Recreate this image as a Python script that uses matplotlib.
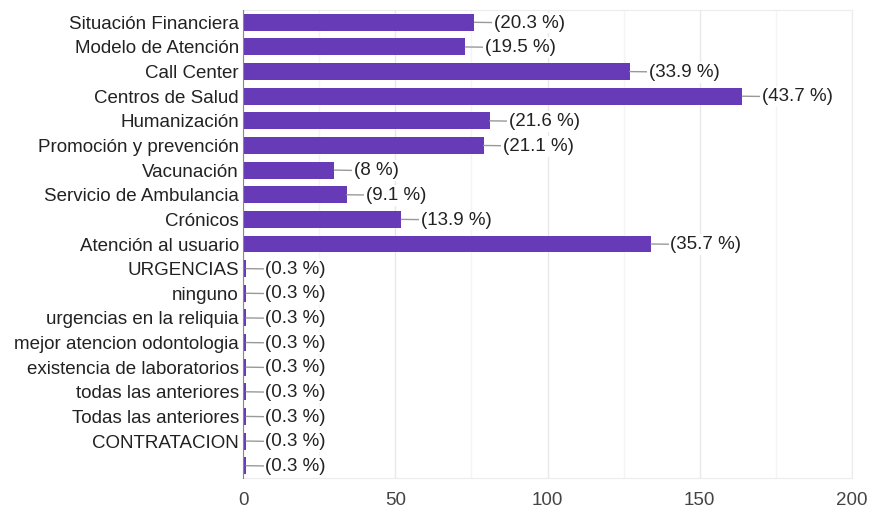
import matplotlib
matplotlib.use('Agg')
import matplotlib.pyplot as plt
from matplotlib.ticker import MultipleLocator

plt.rcParams['font.family'] = ['Liberation Sans', 'DejaVu Sans']

categories = ['Situación Financiera', 'Modelo de Atención', 'Call Center', 'Centros de Salud',
              'Humanización', 'Promoción y prevención', 'Vacunación', 'Servicio de Ambulancia',
              'Crónicos', 'Atención al usuario', 'URGENCIAS', 'ninguno',
              'urgencias en la reliquia', 'mejor atencion odontologia',
              'existencia de laboratorios', 'todas las anteriores', 'Todas las anteriores',
              'CONTRATACION', '']
counts = [76, 73, 127, 164, 81, 79, 30, 34, 52, 134, 1, 1, 1, 1, 1, 1, 1, 1, 1]
percents = ['20.3', '19.5', '33.9', '43.7', '21.6', '21.1', '8', '9.1', '13.9', '35.7',
            '0.3', '0.3', '0.3', '0.3', '0.3', '0.3', '0.3', '0.3', '0.3']
x_ticks = [0, 50, 100, 150, 200]

fig = plt.figure(figsize=(8.71, 5.12), dpi=100)
ax = fig.add_axes([243 / 871, 34 / 512, 609 / 871, 468 / 512])

y = list(range(len(categories)))
ax.barh(y, counts, height=0.69, color='#673ab7', zorder=3)

for yi, c, p in zip(y, counts, percents):
    ax.annotate(f'({p} %)', xy=(c, yi), xytext=(14, -0.5), textcoords='offset points',
                ha='left', va='center', fontsize=13.5, color='#222222',
                bbox=dict(boxstyle='square,pad=0.1', facecolor='white', edgecolor='none'),
                arrowprops=dict(arrowstyle='-', color='#999999', lw=1,
                                shrinkA=0, shrinkB=0), zorder=4)

ax.set_xlim(0, 200)
ax.set_ylim(len(categories) - 0.5, -0.5)
ax.set_yticks(y)
ax.set_yticklabels(categories, fontsize=13.5, color='#222222')
ax.set_xticks(x_ticks)
ax.set_xticklabels([str(t) for t in x_ticks], fontsize=13.5, color='#444444')
ax.xaxis.set_minor_locator(MultipleLocator(25))
ax.tick_params(axis='both', which='both', length=0, pad=3)
ax.tick_params(axis='x', pad=10)

ax.grid(axis='x', which='major', color='#e8e8e8', lw=1, zorder=0)
ax.grid(axis='x', which='minor', color='#f4f4f4', lw=1, zorder=0)
for side in ['top', 'right', 'bottom']:
    ax.spines[side].set_color('#ececec')
ax.spines['left'].set_color('#888888')
ax.spines['left'].set_zorder(5)

fig.savefig('out.png', dpi=100)
